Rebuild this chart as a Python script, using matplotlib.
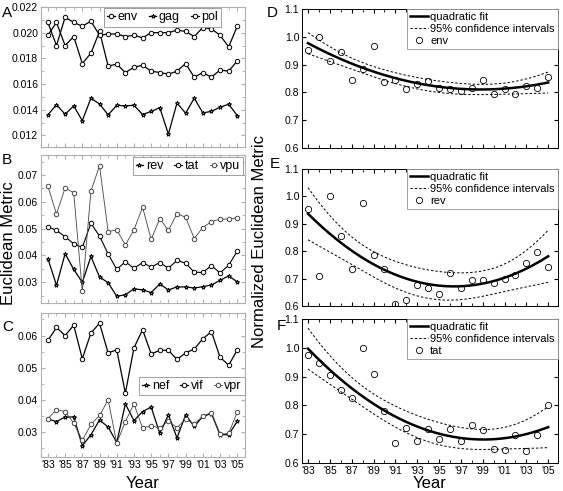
import numpy as np
import matplotlib
matplotlib.use("Agg")
import matplotlib.pyplot as plt
from matplotlib.ticker import MultipleLocator, FormatStrFormatter

plt.rcParams['font.family'] = ['Liberation Sans', 'DejaVu Sans']

# data
years = list(range(1983, 2006))
year_labels = ["'83", "'85", "'87", "'89", "'91", "'93", "'95", "'97", "'99", "'01", "'03", "'05"]

env = [0.0198, 0.0208, 0.0190, 0.0197, 0.0176, 0.0184, 0.0201, 0.0174, 0.01755, 0.0169, 0.0173, 0.01747,
       0.0170, 0.0169, 0.01677, 0.0170, 0.0176, 0.01653, 0.0169, 0.01653, 0.0171, 0.0170, 0.0178]
gag = [0.0136, 0.0144, 0.01365, 0.0143, 0.01315, 0.0149, 0.01445, 0.0136, 0.01435, 0.0143, 0.01435, 0.01363,
       0.01387, 0.01416, 0.0121, 0.01453, 0.01373, 0.0149, 0.01376, 0.01387, 0.0142, 0.01443, 0.01355]
pol = [0.0208, 0.0190, 0.0212, 0.0208, 0.0205, 0.0209, 0.0198, 0.0199, 0.0199, 0.0197, 0.0198, 0.0196,
       0.0200, 0.0200, 0.0200, 0.0202, 0.0201, 0.0197, 0.0204, 0.0203, 0.0198, 0.0189, 0.0205]

rev = [0.0388, 0.0288, 0.0406, 0.0348, 0.0299, 0.0396, 0.0319, 0.0298, 0.0247, 0.0253, 0.0275, 0.0271,
       0.0261, 0.0293, 0.0271, 0.0282, 0.0282, 0.0278, 0.0283, 0.0289, 0.0307, 0.0323, 0.0301]
tat = [0.0507, 0.0493, 0.0470, 0.0443, 0.0430, 0.0520, 0.0472, 0.0405, 0.0348, 0.0376, 0.0352, 0.0373,
       0.0356, 0.0373, 0.0352, 0.0381, 0.0371, 0.0337, 0.0336, 0.0362, 0.0334, 0.0363, 0.0416]
vpu = [0.0658, 0.0555, 0.0652, 0.0634, 0.0265, 0.0640, 0.0735, 0.0489, 0.0495, 0.0439, 0.0495, 0.0580,
       0.0460, 0.0537, 0.0493, 0.0556, 0.0542, 0.0463, 0.0504, 0.0526, 0.0535, 0.0536, 0.0540]

nef = [0.0341, 0.0333, 0.0347, 0.0347, 0.0258, 0.0292, 0.0338, 0.0316, 0.0268, 0.0388, 0.0336, 0.0364,
       0.0378, 0.0296, 0.0354, 0.0282, 0.0354, 0.0318, 0.0349, 0.0358, 0.0292, 0.0292, 0.0334]
vif = [0.0585, 0.0625, 0.0600, 0.0632, 0.0528, 0.0608, 0.0638, 0.0546, 0.0556, 0.0421, 0.0562, 0.0618,
       0.0543, 0.0554, 0.0554, 0.0526, 0.0546, 0.0558, 0.0590, 0.0612, 0.0533, 0.0508, 0.0555]
vpr = [0.0342, 0.0370, 0.0364, 0.0328, 0.0275, 0.0324, 0.0352, 0.0400, 0.0266, 0.0333, 0.0388, 0.0313,
       0.0320, 0.0313, 0.0335, 0.0314, 0.0341, 0.0325, 0.0350, 0.0361, 0.0294, 0.0296, 0.0362]

W, H = 563, 491
fig = plt.figure(figsize=(W / 100, H / 100), dpi=100)


def box(l, t, r, b):
    return [l / W, 1 - b / H, (r - l) / W, (b - t) / H]


x = np.array(years)
lgray = '#b0b0b0'


def style_left(ax, ylim, major, minor, fmt, show_x=False):
    ax.set_xlim(1982.2, 2005.9)
    ax.set_ylim(*ylim)
    ax.xaxis.set_minor_locator(MultipleLocator(1))
    ax.set_xticks(years[::2])
    ax.yaxis.set_major_locator(MultipleLocator(major))
    ax.yaxis.set_minor_locator(MultipleLocator(minor))
    ax.yaxis.set_major_formatter(FormatStrFormatter(fmt))
    ax.tick_params(which='both', direction='in', top=True, right=True, color=lgray, labelsize=7.5, pad=2)
    ax.tick_params(which='major', length=3)
    ax.tick_params(which='minor', length=2)
    for s in ax.spines.values():
        s.set_color(lgray)
        s.set_linewidth(0.8)
    if show_x:
        ax.set_xticklabels(year_labels)
    else:
        ax.set_xticklabels([])


def left_lines(ax, series):
    for vals, name, mk, col, lw in series:
        ax.plot(x, vals, color=col, lw=lw, marker=mk, ms=3.2 if mk == 'o' else 3,
                mfc='white', mec=col, mew=0.7, label=name)


# A
axA = fig.add_axes(box(41, 7, 245, 147))
left_lines(axA, [(env, 'env', 'o', 'black', 0.9), (gag, 'gag', '*', 'black', 0.9),
                 (pol, 'pol', 'o', 'black', 0.9)])
style_left(axA, (0.0111, 0.022), 0.002, 0.001, '%.3f')

# B
axB = fig.add_axes(box(41, 155, 245, 303))
left_lines(axB, [(rev, 'rev', '*', 'black', 0.9), (tat, 'tat', 'o', 'black', 0.8),
                 (vpu, 'vpu', 'o', '#444444', 0.6)])
style_left(axB, (0.0222, 0.0775), 0.01, 0.005, '%.2f')

# C
axC = fig.add_axes(box(41, 313, 245, 457))
left_lines(axC, [(nef, 'nef', '*', 'black', 0.9), (vif, 'vif', 'o', 'black', 0.9),
                 (vpr, 'vpr', 'o', '#444444', 0.6)])
style_left(axC, (0.0223, 0.067), 0.01, 0.005, '%.2f', show_x=True)

leg_kw = dict(ncol=3, fontsize=9, handlelength=0.6, handletextpad=0.2, columnspacing=0.9,
              borderpad=0.25, fancybox=False, framealpha=1, edgecolor='#909090', numpoints=1)
lA = axA.legend(loc='upper left', bbox_to_anchor=((103 - 41) / 204, 1.0), borderaxespad=0.1, **leg_kw)
lB = axB.legend(loc='upper right', borderaxespad=0.15, **leg_kw)
lC = axC.legend(loc='upper right', bbox_to_anchor=(1.0, 1 - (377 - 313) / 144), borderaxespad=0, **leg_kw)
for lg in (lA, lB, lC):
    lg.get_frame().set_linewidth(0.6)

tval = 2.086  # t(0.975, 20)


def fit_panel(ax, vals, name, show_x=False):
    y = np.array(vals) / max(vals)
    t = x - 1994.0
    X = np.vander(t, 3)
    coef, res, rk, sv = np.linalg.lstsq(X, y, rcond=None)
    resid = y - X @ coef
    s2 = resid @ resid / (len(y) - 3)
    cov = s2 * np.linalg.inv(X.T @ X)
    tg = np.linspace(t.min(), t.max(), 200)
    G = np.vander(tg, 3)
    yg = G @ coef
    se = np.sqrt(np.einsum('ij,jk,ik->i', G, cov, G))
    xg = tg + 1994.0
    ax.plot(xg, yg, color='black', lw=1.8, label='quadratic fit')
    ax.plot(xg, yg + tval * se, color='black', lw=0.7, ls=(0, (2.5, 2)), label='95% confidence intervals')
    ax.plot(xg, yg - tval * se, color='black', lw=0.7, ls=(0, (2.5, 2)))
    ax.plot(x, y, ls='none', marker='o', ms=4.5, mfc='none', mec='black', mew=0.6, label=name)
    ax.set_xlim(1982.45, 2005.9)
    ax.set_ylim(0.6, 1.1)
    ax.set_xticks(years[::2])
    ax.xaxis.set_minor_locator(MultipleLocator(1))
    ax.yaxis.set_major_locator(MultipleLocator(0.1))
    ax.yaxis.set_major_formatter(FormatStrFormatter('%.1f'))
    ax.tick_params(which='both', direction='in', top=True, right=True, labelsize=7.5, pad=2)
    ax.tick_params(which='major', length=3)
    ax.tick_params(which='minor', length=2)
    for s in ax.spines.values():
        s.set_linewidth(0.7)
    if show_x:
        ax.set_xticklabels(year_labels)
    else:
        ax.set_xticklabels([])
    lg = ax.legend(loc='upper right', fontsize=8, handlelength=1.6, handletextpad=0.2, borderpad=0.3,
                   labelspacing=0.15, fancybox=False, framealpha=1, edgecolor='#909090',
                   borderaxespad=0, numpoints=1)
    lg.get_frame().set_linewidth(0.6)


axD = fig.add_axes(box(302, 9, 558, 148))
fit_panel(axD, env, 'env')
axE = fig.add_axes(box(302, 169, 558, 306))
fit_panel(axE, rev, 'rev')
axF = fig.add_axes(box(302, 319, 558, 463))
fit_panel(axF, tat, 'tat', show_x=True)

# labels
for lab, px, py in [('A', 7, 13), ('B', 7, 160), ('C', 8, 327), ('D', 272, 13), ('E', 275, 164), ('F', 281, 326)]:
    fig.text(px / W, 1 - py / H, lab, fontsize=11, ha='center', va='center')
fig.text(9 / W, 1 - 243 / H, 'Euclidean Metric', fontsize=12, rotation=90, ha='center', va='center')
fig.text(259 / W, 1 - 241 / H, 'Normalized Euclidean Metric', fontsize=12, rotation=90, ha='center', va='center')
fig.text(143 / W, 1 - 483 / H, 'Year', fontsize=12, ha='center', va='center')
fig.text(430 / W, 1 - 483 / H, 'Year', fontsize=12, ha='center', va='center')

fig.savefig('out.png', dpi=100)
